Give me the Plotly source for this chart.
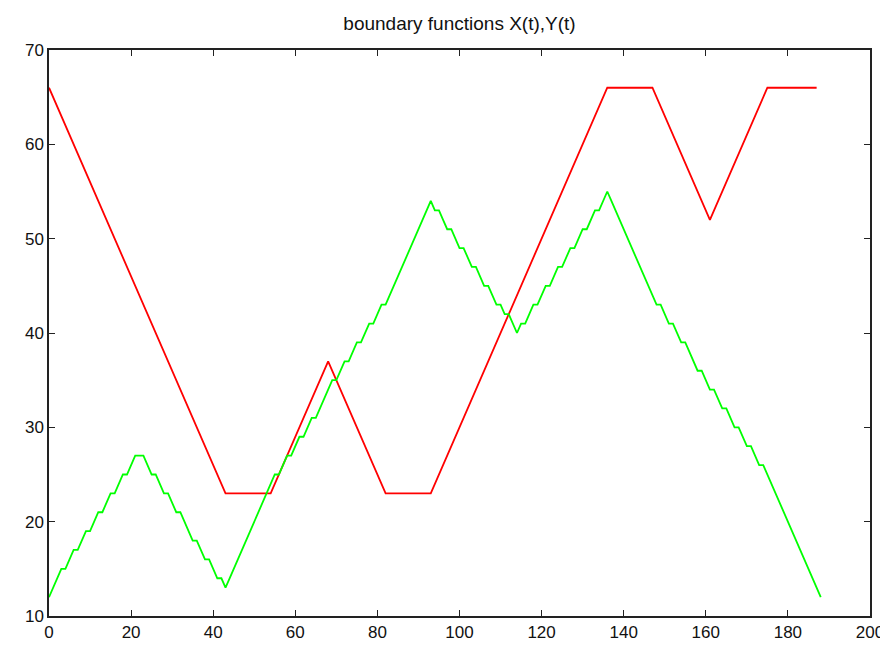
import plotly.graph_objects as go

# Red boundary function (vertices, t and value)
red_t = [0, 43, 54, 68, 82, 93, 136, 147, 161, 175, 187]
red_y = [66, 23, 23, 37, 23, 23, 66, 66, 52, 66, 66]

# Green boundary function, one value per integer t starting at 0
green_y = [
    12, 13, 14, 15, 15, 16, 17, 17, 18, 19, 19, 20, 21, 21, 22, 23, 23, 24, 25, 25,
    26, 27, 27, 27, 26, 25, 25, 24, 23, 23, 22, 21, 21, 20, 19, 18, 18, 17, 16, 16,
    15, 14, 14, 13, 14, 15, 16, 17, 18, 19, 20, 21, 22, 23, 24, 25, 25, 26, 27, 27,
    28, 29, 29, 30, 31, 31, 32, 33, 34, 35, 35, 36, 37, 37, 38, 39, 39, 40, 41, 41,
    42, 43, 43, 44, 45, 46, 47, 48, 49, 50, 51, 52, 53, 54, 53, 53, 52, 51, 51, 50,
    49, 49, 48, 47, 47, 46, 45, 45, 44, 43, 43, 42, 42, 41, 40, 41, 41, 42, 43, 43,
    44, 45, 45, 46, 47, 47, 48, 49, 49, 50, 51, 51, 52, 53, 53, 54, 55, 54, 53, 52,
    51, 50, 49, 48, 47, 46, 45, 44, 43, 43, 42, 41, 41, 40, 39, 39, 38, 37, 36, 36,
    35, 34, 34, 33, 32, 32, 31, 30, 30, 29, 28, 28, 27, 26, 26, 25, 24, 23, 22, 21,
    20, 19, 18, 17, 16, 15, 14, 13, 12,
]
green_t = list(range(len(green_y)))

x_ticks = [0, 20, 40, 60, 80, 100, 120, 140, 160, 180, 200]
y_ticks = [10, 20, 30, 40, 50, 60, 70]

fig = go.Figure()
fig.add_trace(go.Scatter(x=red_t, y=red_y, mode="lines",
                         line=dict(color="#ff0000", width=1.8), showlegend=False))
fig.add_trace(go.Scatter(x=green_t, y=green_y, mode="lines",
                         line=dict(color="#00ff00", width=1.8), showlegend=False))

font_family = "Liberation Sans, Arial, sans-serif"
axis_common = dict(
    showgrid=False, zeroline=False, showline=True, linecolor="#222222", linewidth=1.5,
    mirror="ticks", ticks="inside", ticklen=6, tickwidth=1.2, tickcolor="#222222",
    tickfont=dict(family=font_family, size=17, color="#111111"),
)
fig.update_xaxes(range=[0, 200], tickvals=x_ticks, ticktext=[str(v) for v in x_ticks],
                 **axis_common)
fig.update_yaxes(range=[10, 70], tickvals=y_ticks, ticktext=[str(v) for v in y_ticks],
                 **axis_common)

fig.update_layout(
    width=888, height=646,
    margin=dict(l=41, r=19, t=42, b=33),
    paper_bgcolor="white", plot_bgcolor="white",
    title=dict(text="boundary functions X(t),Y(t)", x=0.5, xref="paper",
               y=0.976, yanchor="middle",
               font=dict(family=font_family, size=19, color="#111111")),
)

fig.write_html("out.html")
